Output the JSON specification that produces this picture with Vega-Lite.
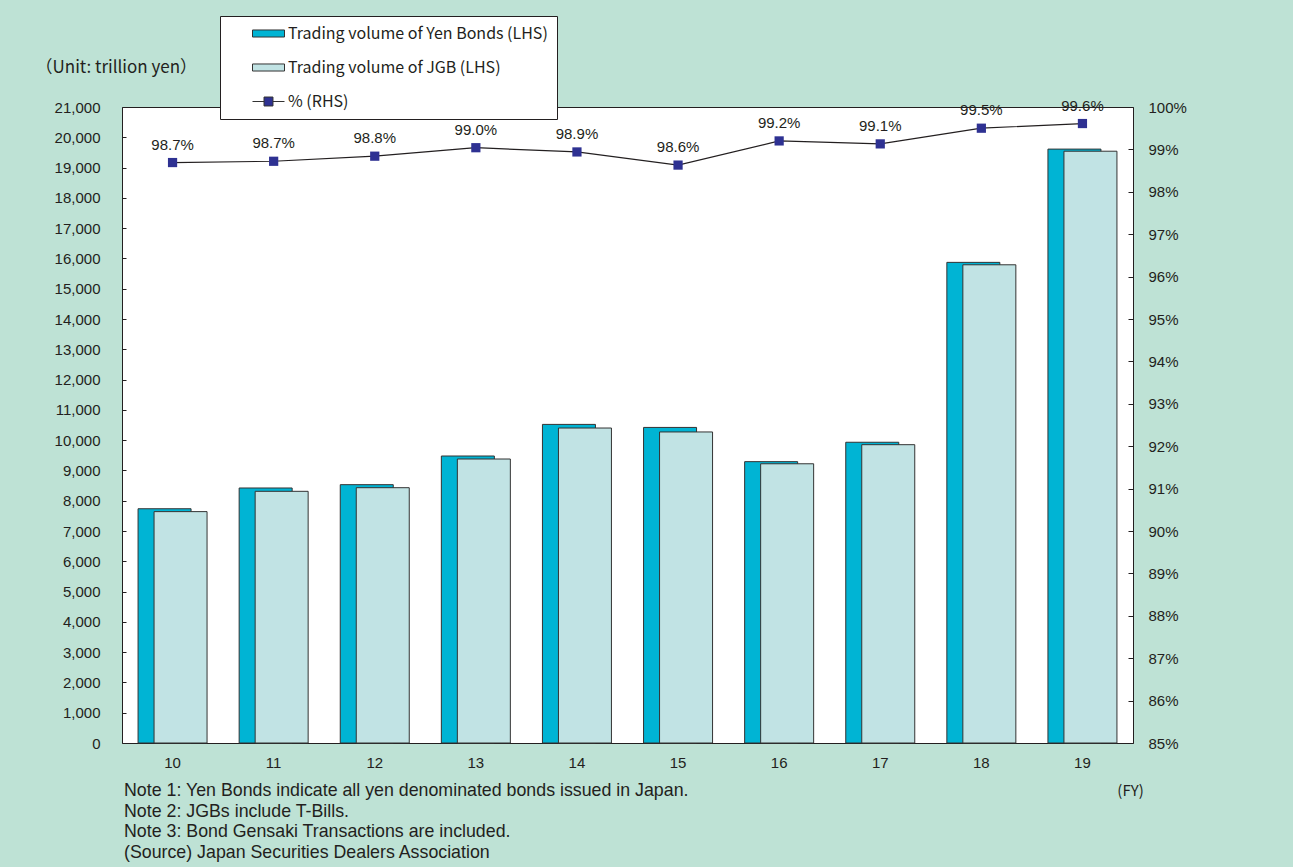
{
  "$schema": "https://vega.github.io/schema/vega-lite/v6.json",
  "width": 1011,
  "height": 636,
  "autosize": {"type": "none"},
  "padding": {"left": 122, "top": 107, "right": 160, "bottom": 124},
  "background": "#bee2d5",
  "config": {
    "font": "Liberation Sans",
    "view": {"fill": "white", "stroke": "#231f20", "strokeWidth": 1},
    "axis": {"labelFont": "Liberation Sans", "labelFontSize": 15, "labelColor": "#231f20", "grid": false, "domain": false, "tickColor": "#231f20", "labelOverlap": false},
    "axisLeft": {
      "values": [0, 1000, 2000, 3000, 4000, 5000, 6000, 7000, 8000, 9000, 10000, 11000, 12000, 13000, 14000, 15000, 16000, 17000, 18000, 19000, 20000, 21000]
    }
  },
  "data": {
    "values": [
      {"fy": "10", "yen": 7735, "jgb": 7640, "pct": 98.69, "lab": "98.7%"},
      {"fy": "11", "yen": 8420, "jgb": 8310, "pct": 98.72, "lab": "98.7%"},
      {"fy": "12", "yen": 8530, "jgb": 8430, "pct": 98.84, "lab": "98.8%"},
      {"fy": "13", "yen": 9476, "jgb": 9377, "pct": 99.04, "lab": "99.0%"},
      {"fy": "14", "yen": 10520, "jgb": 10400, "pct": 98.94, "lab": "98.9%"},
      {"fy": "15", "yen": 10420, "jgb": 10270, "pct": 98.63, "lab": "98.6%"},
      {"fy": "16", "yen": 9290, "jgb": 9220, "pct": 99.2, "lab": "99.2%"},
      {"fy": "17", "yen": 9930, "jgb": 9850, "pct": 99.13, "lab": "99.1%"},
      {"fy": "18", "yen": 15870, "jgb": 15790, "pct": 99.5, "lab": "99.5%"},
      {"fy": "19", "yen": 19610, "jgb": 19540, "pct": 99.61, "lab": "99.6%"}
    ]
  },
  "title": {
    "text": [
      "Note 1: Yen Bonds indicate all yen denominated bonds issued in Japan.",
      "Note 2: JGBs include T-Bills.",
      "Note 3: Bond Gensaki Transactions are included.",
      "(Source) Japan Securities Dealers Association"
    ],
    "orient": "bottom",
    "anchor": "start",
    "frame": "group",
    "offset": -16,
    "dx": 2,
    "font": "Liberation Sans",
    "fontSize": 17.8,
    "fontWeight": "normal",
    "lineHeight": 20.6,
    "color": "#231f20"
  },
  "encoding": {
    "x": {
      "field": "fy",
      "type": "ordinal",
      "scale": {"paddingInner": 0, "paddingOuter": 0},
      "axis": {
        "labelAngle": 0,
        "ticks": false,
        "labelPadding": 12,
        "title": "(FY)",
        "titleFont": "Noto Sans CJK JP",
        "titleFontSize": 15,
        "titleFontWeight": "normal",
        "titleColor": "#231f20",
        "titleAnchor": "start",
        "titleAlign": "center",
        "titleBaseline": "middle",
        "titleX": 1008,
        "titleY": 47
      }
    }
  },
  "layer": [
    {
      "layer": [
        {
          "mark": {"type": "bar", "width": 53, "xOffset": -8, "stroke": "#333333", "strokeWidth": 1},
          "encoding": {
            "y": {
              "field": "yen",
              "type": "quantitative",
              "scale": {"domain": [0, 21000], "nice": false},
              "axis": {
                "format": ",d",
                "tickSize": -4,
                "labelPadding": 26,
                "title": "（Unit: trillion yen）",
                "titleAngle": 0,
                "titleFont": "Noto Sans CJK JP",
                "titleFontSize": 17,
                "titleFontWeight": "normal",
                "titleColor": "#231f20",
                "titleAlign": "left",
                "titleBaseline": "middle",
                "titleX": -87,
                "titleY": -40
              }
            },
            "color": {
              "datum": "Trading volume of Yen Bonds (LHS)",
              "scale": {
                "domain": ["Trading volume of Yen Bonds (LHS)", "Trading volume of JGB (LHS)", "% (RHS)"],
                "range": ["#00b4d4", "#c1e3e4", "#2e3192"]
              },
              "legend": {
                "title": null,
                "orient": "none",
                "legendX": 98,
                "legendY": -91,
                "direction": "vertical",
                "fillColor": "white",
                "strokeColor": "#231f20",
                "padding": 9,
                "rowPadding": 17,
                "symbolOffset": 31,
                "labelOffset": 11,
                "labelFont": "Noto Sans CJK JP",
                "labelFontSize": 16,
                "labelColor": "#231f20",
                "labelLimit": 400,
                "symbolSize": 256,
                "symbolType": {"expr": "datum.value === '% (RHS)' ? 'M-2,0H-0.56M0.56,0H2M-0.56,-0.56H0.56V0.56H-0.56Z' : 'M-2,-0.44H2V0.44H-2Z'"},
                "symbolStrokeColor": "#333333",
                "symbolStrokeWidth": 1,
                "symbolOpacity": 1
              }
            }
          }
        },
        {
          "mark": {"type": "bar", "width": 53, "xOffset": 8, "stroke": "#333333", "strokeWidth": 1},
          "encoding": {
            "y": {"field": "jgb", "type": "quantitative"},
            "color": {"datum": "Trading volume of JGB (LHS)"}
          }
        }
      ]
    },
    {
      "layer": [
        {
          "mark": {"type": "line", "color": "#231f20", "strokeWidth": 1.2},
          "encoding": {
            "y": {
              "field": "pct",
              "type": "quantitative",
              "scale": {"domain": [85, 100], "nice": false, "zero": false},
              "axis": {
                "orient": "right",
                "values": [85, 86, 87, 88, 89, 90, 91, 92, 93, 94, 95, 96, 97, 98, 99, 100],
                "labelExpr": "datum.value + '%'",
                "tickSize": -5,
                "labelPadding": 20,
                "title": null
              }
            }
          }
        },
        {
          "mark": {"type": "point", "shape": "square", "filled": true, "size": 85, "opacity": 1},
          "encoding": {
            "y": {"field": "pct", "type": "quantitative"},
            "color": {"datum": "% (RHS)"}
          }
        },
        {
          "mark": {"type": "text", "dy": -18, "baseline": "middle", "font": "Liberation Sans", "fontSize": 15, "color": "#231f20"},
          "encoding": {
            "y": {"field": "pct", "type": "quantitative"},
            "text": {"field": "lab", "type": "nominal"}
          }
        }
      ]
    }
  ],
  "resolve": {"scale": {"y": "independent"}}
}
